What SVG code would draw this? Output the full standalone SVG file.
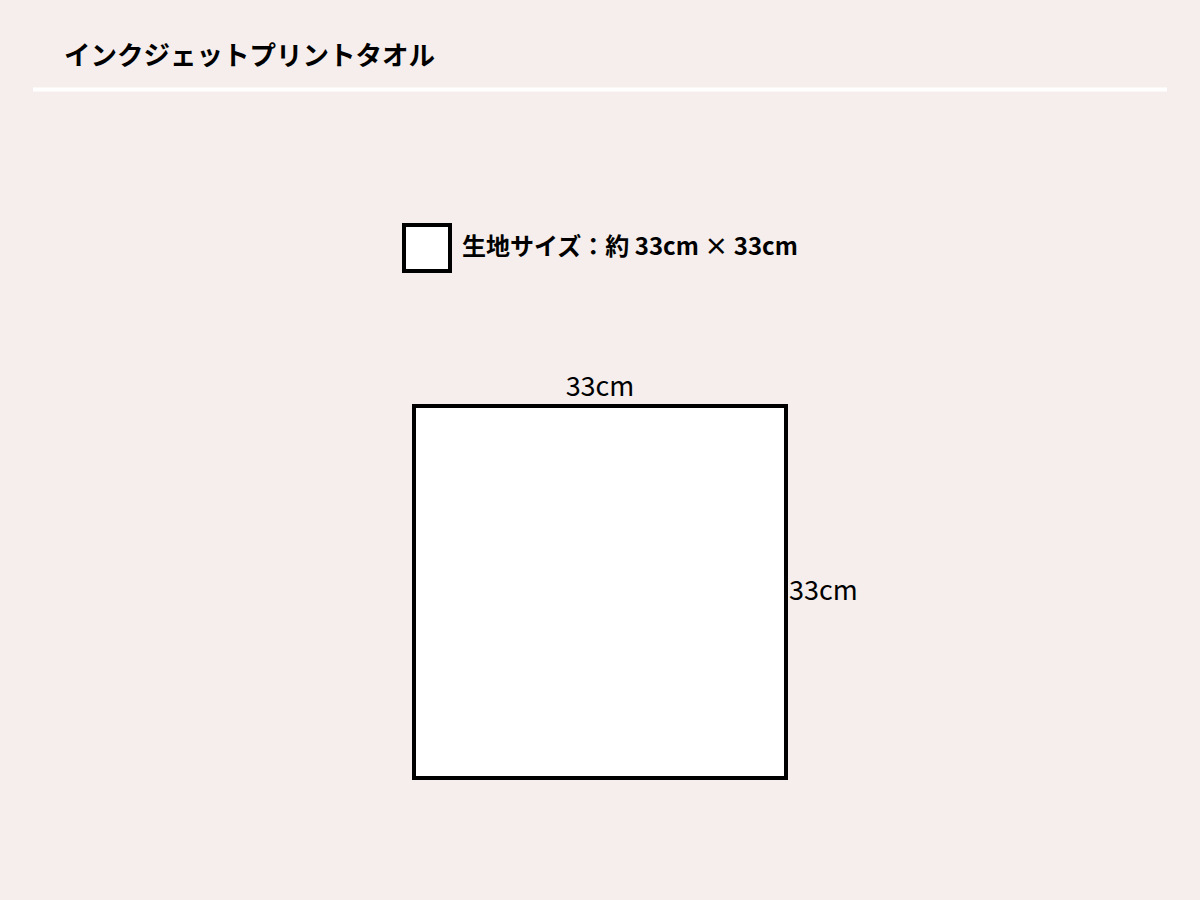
<svg xmlns="http://www.w3.org/2000/svg" width="1200" height="900" viewBox="0 0 1200 900">
<style>
text{font-family:"Noto Sans CJK JP","Noto Sans",sans-serif;fill:#000}
.title{font-size:26.5px;font-weight:bold}
.leg{font-size:24px;font-weight:bold}
.dim{font-size:27px}
.box{fill:#fff;stroke:#000;stroke-width:4}
</style>
<rect width="1200" height="900" fill="#f5eeec"/>
<g id="header">
<text class="title" x="64" y="65">インクジェットプリントタオル</text>
<line x1="33" y1="89.5" x2="1167" y2="89.5" stroke="#fff" stroke-width="4"/>
</g>
<g id="legend">
<rect class="box" x="404" y="225" width="46" height="46"/>
<text class="leg" x="462" y="255">生地サイズ：約 33cm × 33cm</text>
</g>
<g id="towel">
<rect class="box" x="414" y="406" width="372" height="372"/>
<text class="dim" x="600" y="396" text-anchor="middle">33cm</text>
<text class="dim" x="789" y="600">33cm</text>
</g>
</svg>
